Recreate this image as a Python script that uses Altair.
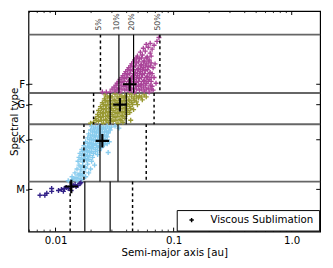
import altair as alt
import pandas as pd

# ---------------- data (semi-major axis [au], stellar mass [Msun]) ----------------
F_A = [0.0290, 0.0319, 0.0351, 0.0386, 0.0425, 0.0467, 0.0513, 0.0564, 0.0621, 0.0670,
       0.0313, 0.0344, 0.0379, 0.0417, 0.0458, 0.0504, 0.0554, 0.0609, 0.0657,
       0.0332, 0.0365, 0.0401, 0.0441, 0.0485, 0.0533, 0.0586, 0.0645,
       0.0351, 0.0386, 0.0425, 0.0467, 0.0513, 0.0564, 0.0621, 0.0683,
       0.0372, 0.0409, 0.0449, 0.0494, 0.0543, 0.0598, 0.0657,
       0.0393, 0.0433, 0.0476, 0.0523, 0.0575, 0.0633,
       0.0417, 0.0458, 0.0504, 0.0554, 0.0609, 0.0670,
       0.0441, 0.0485, 0.0533, 0.0586, 0.0645,
       0.0467, 0.0513, 0.0564, 0.0621,
       0.0494, 0.0543, 0.0598, 0.0645,
       0.0523, 0.0575, 0.0633,
       0.0554, 0.0609, 0.0657,
       0.0586, 0.0633, 0.0683,
       0.0723, 0.0751, 0.0696, 0.0709, 0.0269, 0.0249]
F_M = [1.035, 1.042, 1.035, 1.048, 1.042, 1.035, 1.048, 1.042, 1.035, 1.048,
       1.068, 1.061, 1.074, 1.068, 1.061, 1.074, 1.068, 1.061, 1.074,
       1.094, 1.100, 1.087, 1.094, 1.100, 1.087, 1.094, 1.106,
       1.119, 1.126, 1.113, 1.119, 1.126, 1.113, 1.119, 1.132,
       1.145, 1.152, 1.139, 1.145, 1.152, 1.139, 1.158,
       1.171, 1.178, 1.165, 1.171, 1.178, 1.165,
       1.197, 1.204, 1.191, 1.197, 1.204, 1.197,
       1.223, 1.230, 1.217, 1.223, 1.230,
       1.249, 1.256, 1.243, 1.249,
       1.275, 1.282, 1.269, 1.275,
       1.301, 1.308, 1.295,
       1.327, 1.334, 1.321,
       1.353, 1.360, 1.347,
       1.373, 1.399, 1.223, 1.094, 1.035, 1.035]
# extra F points in the dense core
F2_A = [0.0301, 0.0332, 0.0365, 0.0401, 0.0441, 0.0485, 0.0533, 0.0586, 0.0645,
        0.0325, 0.0358, 0.0393, 0.0433, 0.0476, 0.0523, 0.0575, 0.0633,
        0.0344, 0.0379, 0.0417, 0.0458, 0.0504, 0.0554, 0.0609,
        0.0365, 0.0401, 0.0441, 0.0485, 0.0533, 0.0586, 0.0645,
        0.0386, 0.0425, 0.0467, 0.0513, 0.0564, 0.0621,
        0.0409, 0.0449, 0.0494, 0.0543, 0.0598,
        0.0433, 0.0476, 0.0523, 0.0575, 0.0633,
        0.0458, 0.0504, 0.0554, 0.0609,
        0.0485, 0.0533, 0.0586]
F2_M = [1.055] * 9 + [1.081] * 8 + [1.106] * 7 + [1.132] * 7 + [1.158] * 6 + \
       [1.184] * 5 + [1.210] * 5 + [1.236] * 4 + [1.262] * 3

G_A = [0.0264, 0.0290, 0.0319, 0.0351, 0.0386, 0.0425, 0.0467, 0.0513, 0.0564,
       0.0259, 0.0285, 0.0313, 0.0344, 0.0379, 0.0417, 0.0458, 0.0504,
       0.0249, 0.0274, 0.0301, 0.0332, 0.0365, 0.0401, 0.0441, 0.0485,
       0.0240, 0.0264, 0.0290, 0.0319, 0.0351, 0.0386, 0.0425,
       0.0231, 0.0254, 0.0279, 0.0307, 0.0338, 0.0372, 0.0409, 0.0458,
       0.0227, 0.0249, 0.0274, 0.0301, 0.0332, 0.0365, 0.0401,
       0.0218, 0.0240, 0.0264, 0.0290, 0.0319, 0.0351, 0.0386,
       0.0210, 0.0231, 0.0254, 0.0279, 0.0307, 0.0338, 0.0372,
       0.0586, 0.0543, 0.0494, 0.0198, 0.0433]
G_M = [1.016, 1.009, 1.022, 1.016, 1.009, 1.022, 1.016, 1.009, 1.016,
       0.990, 0.996, 0.983, 0.990, 0.996, 0.983, 0.990, 0.996,
       0.964, 0.970, 0.957, 0.964, 0.970, 0.957, 0.964, 0.970,
       0.938, 0.944, 0.931, 0.938, 0.944, 0.931, 0.938,
       0.912, 0.918, 0.905, 0.912, 0.918, 0.905, 0.912, 0.918,
       0.886, 0.892, 0.879, 0.886, 0.892, 0.879, 0.886,
       0.860, 0.866, 0.853, 0.860, 0.866, 0.853, 0.860,
       0.834, 0.840, 0.827, 0.834, 0.840, 0.827, 0.834,
       1.003, 0.983, 0.951, 0.827, 0.847]
G2_A = [0.0274, 0.0301, 0.0332, 0.0365, 0.0401, 0.0441, 0.0485, 0.0533,
        0.0264, 0.0290, 0.0319, 0.0351, 0.0386, 0.0425, 0.0467,
        0.0254, 0.0279, 0.0307, 0.0338, 0.0372, 0.0409, 0.0449,
        0.0245, 0.0269, 0.0296, 0.0325, 0.0358, 0.0393, 0.0433,
        0.0240, 0.0264, 0.0290, 0.0319, 0.0351, 0.0386, 0.0425,
        0.0231, 0.0254, 0.0279, 0.0307, 0.0338, 0.0372,
        0.0222, 0.0245, 0.0269, 0.0296, 0.0325, 0.0358]
G2_M = [1.003] * 8 + [0.977] * 7 + [0.951] * 7 + [0.925] * 7 + [0.899] * 7 + \
       [0.873] * 6 + [0.847] * 6

K_A = [0.0202, 0.0218, 0.0235, 0.0254, 0.0274, 0.0296, 0.0319, 0.0344,
       0.0198, 0.0214, 0.0231, 0.0249, 0.0269, 0.0290,
       0.0191, 0.0206, 0.0222, 0.0240, 0.0259, 0.0279,
       0.0187, 0.0202, 0.0218, 0.0235, 0.0254, 0.0274,
       0.0180, 0.0195, 0.0210, 0.0227, 0.0245, 0.0264, 0.0285,
       0.0174, 0.0191, 0.0206, 0.0222, 0.0240, 0.0259,
       0.0167, 0.0184, 0.0202, 0.0218, 0.0235, 0.0279,
       0.0161, 0.0177, 0.0195, 0.0210, 0.0227,
       0.0158, 0.0174, 0.0187, 0.0206,
       0.0155, 0.0170, 0.0184, 0.0202,
       0.0158, 0.0170, 0.0187, 0.0214,
       0.0152, 0.0164, 0.0180, 0.0198,
       0.0146, 0.0161, 0.0174, 0.0191,
       0.0138, 0.0149, 0.0164, 0.0180,
       0.0128, 0.0138, 0.0152, 0.0167]
K_M = [0.808, 0.801, 0.808, 0.801, 0.808, 0.801, 0.808, 0.795,
       0.782, 0.775, 0.782, 0.788, 0.775, 0.782,
       0.756, 0.749, 0.762, 0.756, 0.749, 0.762,
       0.730, 0.723, 0.736, 0.730, 0.723, 0.736,
       0.704, 0.697, 0.710, 0.704, 0.697, 0.710, 0.704,
       0.678, 0.671, 0.684, 0.678, 0.671, 0.684,
       0.652, 0.645, 0.658, 0.652, 0.645, 0.632,
       0.626, 0.619, 0.632, 0.626, 0.619,
       0.600, 0.594, 0.606, 0.600,
       0.574, 0.568, 0.581, 0.574,
       0.548, 0.542, 0.555, 0.548,
       0.522, 0.516, 0.529, 0.522,
       0.496, 0.490, 0.503, 0.496,
       0.470, 0.464, 0.477, 0.470,
       0.444, 0.451, 0.444, 0.451]
K2_A = [0.0210, 0.0227, 0.0245, 0.0264, 0.0285,
        0.0206, 0.0222, 0.0240, 0.0259, 0.0279,
        0.0198, 0.0214, 0.0231, 0.0249, 0.0269,
        0.0195, 0.0210, 0.0227, 0.0245, 0.0264,
        0.0187, 0.0202, 0.0218, 0.0235, 0.0254, 0.0274,
        0.0180, 0.0195, 0.0210, 0.0227, 0.0245,
        0.0170, 0.0187, 0.0202, 0.0218,
        0.0167, 0.0180, 0.0195,
        0.0164, 0.0177, 0.0191,
        0.0164, 0.0177,
        0.0155, 0.0170,
        0.0143, 0.0158]
K2_M = [0.795] * 5 + [0.769] * 5 + [0.743] * 5 + [0.717] * 5 + [0.691] * 6 + [0.665] * 5 + \
       [0.639] * 4 + [0.613] * 3 + [0.587] * 3 + [0.535] * 2 + [0.483] * 2 + [0.457] * 2

M_A = [0.00738, 0.00812, 0.00843, 0.00927, 0.00927, 0.01059, 0.01121, 0.01187, 0.01233,
       0.01281, 0.01331, 0.01356, 0.01409, 0.01464, 0.01492, 0.01549, 0.01609, 0.0164, 0.01165]
M_M = [0.347, 0.347, 0.360, 0.392, 0.373, 0.379, 0.386, 0.392, 0.399,
       0.392, 0.405, 0.379, 0.412, 0.418, 0.405, 0.412, 0.425, 0.431, 0.373]

SPECTRAL = ["F", "G", "K", "M"]
COLORS = ["#AA4499", "#999933", "#88CCEE", "#332288"]
SPEC_TICKS = [1.087, 0.951, 0.717, 0.386]

BAND_TOP = [1.418, 1.029, 0.821, 0.438]
BAND_BOT = [1.029, 0.821, 0.438, 0.105]

PCT_LABELS = ["5%", "10%", "20%", "50%"]
PCT_A = {
    "F": [0.0240, 0.0344, 0.0458, 0.0765],
    "G": [0.0210, 0.0290, 0.0397, 0.0683],
    "K": [0.0174, 0.0238, 0.0338, 0.0586],
    "M": [0.0133, 0.0177, 0.0290, 0.0449],
}
PCT_LABEL_M = 1.445

MED_A = [0.0425, 0.0351, 0.0249, 0.0136]
MED_M = [1.087, 0.951, 0.710, 0.405]
LEGEND_LABEL = "Viscous Sublimation"

MAJOR_X = [0.01, 0.1, 1.0]
MINOR_X = [0.006, 0.007, 0.008, 0.009, 0.02, 0.03, 0.04, 0.05, 0.06, 0.07, 0.08, 0.09,
           0.2, 0.3, 0.4, 0.5, 0.6, 0.7, 0.8, 0.9]

# ---------------- tables ----------------
pts = pd.concat([
    pd.DataFrame({"a": A, "m": Mv, "spec": s})
    for A, Mv, s in [(G_A, G_M, "G"), (G2_A, G2_M, "G"), (F_A, F_M, "F"), (F2_A, F2_M, "F"),
                     (K_A, K_M, "K"), (K2_A, K2_M, "K"), (M_A, M_M, "M")]
])
bands = pd.DataFrame({"m": BAND_TOP[:]})
rows = []
for i, s in enumerate(SPECTRAL):
    for j, p in enumerate(PCT_LABELS):
        rows.append({"spec": s, "pct": p, "a": PCT_A[s][j], "m": BAND_TOP[i], "m2": BAND_BOT[i],
                     "dashed": p in ("5%", "50%")})
pct = pd.DataFrame(rows)
labels = pd.DataFrame({"a": PCT_A["F"], "m": [PCT_LABEL_M] * 4, "t": PCT_LABELS})
med = pd.DataFrame({"a": MED_A, "m": MED_M, "lab": [LEGEND_LABEL] * 4})
major = pd.DataFrame({"a": MAJOR_X})
minor = pd.DataFrame({"a": MINOR_X})
yt = pd.DataFrame({"m": SPEC_TICKS})

W, H = 299, 226
PLUS = "M-1,0L1,0M0,-1L0,1"

xscale = alt.Scale(type="log", domain=[0.0059, 1.74], nice=False)
yscale = alt.Scale(domain=[0.105, 1.575], nice=False, zero=False)
xaxis = alt.Axis(values=MAJOR_X, ticks=False, grid=False, domain=False,
                 labelExpr="datum.value < 0.05 ? '0.01' : datum.value < 0.5 ? '0.1' : '1.0'",
                 title="Semi-major axis [au]", labelPadding=4, titleY=25,
                 titleBaseline="alphabetic", labelFlush=False)
yaxis = alt.Axis(values=SPEC_TICKS, tickSize=3, grid=False, domain=False,
                 labelExpr="datum.value > 1.0 ? 'F' : datum.value > 0.85 ? 'G' : datum.value > 0.5 ? 'K' : 'M'",
                 title="Spectral type", labelPadding=1, titleX=-14, titleBaseline="middle")


def X(f="a"):
    return alt.X(f + ":Q", scale=xscale, axis=xaxis)


def Y(f="m"):
    return alt.Y(f + ":Q", scale=yscale, axis=yaxis)


band_layer = alt.Chart(bands).mark_rule(color="#666666", strokeWidth=2).encode(y=Y())

scatter = alt.Chart(pts).mark_point(shape=PLUS, filled=False, size=26, strokeWidth=1.4, opacity=1).encode(
    x=X(), y=Y(),
    color=alt.Color("spec:N", scale=alt.Scale(domain=SPECTRAL, range=COLORS), legend=None),
)

solid = alt.Chart(pct).transform_filter("!datum.dashed").mark_rule(color="black", strokeWidth=1.2).encode(
    x=X(), y=Y(), y2="m2:Q")
dashed = alt.Chart(pct).transform_filter("datum.dashed").mark_rule(
    color="black", strokeWidth=1.5, strokeDash=[3, 3]).encode(x=X(), y=Y(), y2="m2:Q")

pct_text = alt.Chart(labels).mark_text(angle=270, align="left", baseline="middle", fontSize=8,
                                      font="DejaVu Sans", color="#444444", dy=-1.5).encode(
    x=X(), y=Y(), text="t:N")

tick_bot_major = alt.Chart(major).mark_rule(color="black", strokeWidth=1).encode(
    x=X(), y=alt.value(H), y2=alt.value(H - 4))
tick_top_major = alt.Chart(major).mark_rule(color="black", strokeWidth=1).encode(
    x=X(), y=alt.value(0), y2=alt.value(4))
tick_bot_minor = alt.Chart(minor).mark_rule(color="black", strokeWidth=0.8).encode(
    x=X(), y=alt.value(H), y2=alt.value(H - 2))
tick_top_minor = alt.Chart(minor).mark_rule(color="black", strokeWidth=0.8).encode(
    x=X(), y=alt.value(0), y2=alt.value(2))
tick_left = alt.Chart(yt).mark_rule(color="black", strokeWidth=1).encode(
    y=Y(), x=alt.value(0), x2=alt.value(4))
tick_right = alt.Chart(yt).mark_rule(color="black", strokeWidth=1).encode(
    y=Y(), x=alt.value(W - 4), x2=alt.value(W))

medians = alt.Chart(med).mark_point(shape=PLUS, filled=False, size=190, strokeWidth=2.2, opacity=1).encode(
    x=X(), y=Y(),
    color=alt.Color("lab:N", scale=alt.Scale(domain=[LEGEND_LABEL], range=["black"]),
                    legend=alt.Legend(title=None, orient="bottom-right", offset=1, padding=5,
                                      strokeColor="black", fillColor="white", cornerRadius=0,
                                      symbolType=PLUS, symbolSize=20, symbolStrokeWidth=1.5,
                                      symbolOffset=5, labelOffset=14, labelFontSize=10.5,
                                      labelFont="DejaVu Sans", labelColor="black")),
)

chart = alt.layer(
    band_layer, scatter, solid, dashed, pct_text,
    tick_bot_major, tick_top_major, tick_bot_minor, tick_top_minor, tick_left, tick_right,
    medians,
).resolve_scale(color="independent").properties(
    width=W, height=H,
    autosize=alt.AutoSizeParams(type="none"),
    padding={"left": 21, "top": 0, "right": 5, "bottom": 26},
).configure_view(stroke="black", strokeWidth=1.2).configure_axis(
    labelFont="DejaVu Sans", titleFont="DejaVu Sans", labelFontSize=10.5, titleFontSize=10.5,
    labelColor="black", titleColor="black", titleFontWeight="normal", tickColor="black",
)

chart.save("out.html", embed_options={"renderer": "svg", "actions": False})
